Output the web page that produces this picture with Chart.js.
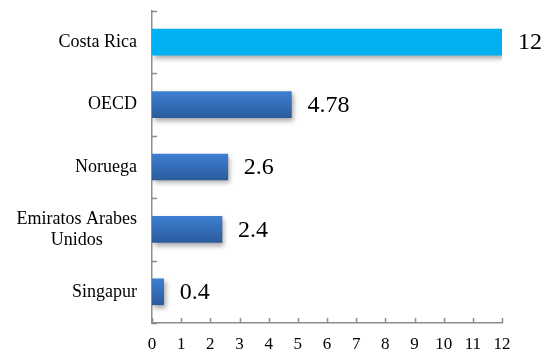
<!DOCTYPE html>
<html>
<head>
<meta charset="utf-8">
<script src="https://cdn.jsdelivr.net/npm/chart.js@4/dist/chart.umd.min.js"></script>
<style>
  html, body { margin: 0; padding: 0; background: #fff; }
  #wrap { width: 543px; height: 352px; position: relative; }
  #probe { position: absolute; left: -999px; font-family: "Liberation Serif", serif; }
</style>
</head>
<body>
<div id="wrap"><canvas id="chart"></canvas></div>
<span id="probe">Costa Rica 0123456789</span>
<script>
const countries = ["Costa Rica", "OECD", "Noruega", ["Emiratos Arabes", "Unidos"], "Singapur"];
const values = [12, 4.78, 2.6, 2.4, 0.4];
const valueLabels = ["12", "4.78", "2.6", "2.4", "0.4"];
const xTicks = [0, 1, 2, 3, 4, 5, 6, 7, 8, 9, 10, 11, 12];

const SERIF = '"Liberation Serif", "Times New Roman", "DejaVu Serif", serif';
const AXIS_COLOR = "#8c8c8c";

// Blue gradient per bar, the first one plain cyan
function barFill(ctx) {
  if (ctx.dataIndex === 0) return "#00b0f0";
  const chart = ctx.chart;
  const y = chart.scales.y;
  if (!y) return "#3670bd";
  const c = y.getPixelForValue(ctx.dataIndex);
  const g = chart.ctx.createLinearGradient(0, c - 13, 0, c + 13);
  g.addColorStop(0, "#3d7fd2");
  g.addColorStop(1, "#2b5b9c");
  return g;
}

const decor = {
  id: "decor",
  beforeDatasetsDraw(chart) {
    const ctx = chart.ctx;
    ctx.save();
    ctx.shadowColor = "rgba(0,0,0,0.35)";
    ctx.shadowBlur = 5;
    ctx.shadowOffsetX = 2;
    ctx.shadowOffsetY = 3;
  },
  afterDatasetsDraw(chart) {
    const ctx = chart.ctx;
    ctx.restore();
    const { x, y } = chart.scales;
    const area = chart.chartArea;

    // inner tick marks on both axes
    ctx.save();
    ctx.strokeStyle = AXIS_COLOR;
    ctx.lineWidth = 1.5;
    ctx.beginPath();
    const step = (y.getPixelForValue(1) - y.getPixelForValue(0));
    for (let i = 0; i <= countries.length; i++) {
      const py = Math.round(y.getPixelForValue(0) - step / 2 + i * step) + 0.5;
      ctx.moveTo(area.left, py);
      ctx.lineTo(area.left + 5, py);
    }
    xTicks.forEach(v => {
      const px = Math.round(x.getPixelForValue(v)) + 0.5;
      ctx.moveTo(px, area.bottom);
      ctx.lineTo(px, area.bottom - 5);
    });
    ctx.stroke();

    // category names, right aligned with centred lines
    ctx.fillStyle = "#000";
    ctx.font = "18px " + SERIF;
    ctx.textBaseline = "middle";
    ctx.textAlign = "center";
    countries.forEach((name, i) => {
      const lines = Array.isArray(name) ? name : [name];
      const w = Math.max(...lines.map(l => ctx.measureText(l).width));
      const cx = area.left - 15 - w / 2;
      const cy = y.getPixelForValue(i);
      const lh = 21;
      lines.forEach((l, k) => {
        ctx.fillText(l, cx, cy + (k - (lines.length - 1) / 2) * lh);
      });
    });

    // value labels after each bar
    ctx.font = "24px " + SERIF;
    ctx.textAlign = "left";
    values.forEach((v, i) => {
      ctx.fillText(valueLabels[i], x.getPixelForValue(v) + 16, y.getPixelForValue(i) + 1);
    });
    ctx.restore();
  }
};

function draw() {
  new Chart(document.getElementById("chart"), {
    type: "bar",
    plugins: [decor],
    data: {
      labels: countries,
      datasets: [{
        data: values,
        backgroundColor: barFill,
        borderWidth: 0,
        barThickness: 26
      }]
    },
    options: {
      indexAxis: "y",
      responsive: true,
      maintainAspectRatio: false,
      animation: false,
      layout: { padding: { top: 11, right: 41, left: 0, bottom: 0 } },
      plugins: { legend: { display: false }, tooltip: { enabled: false } },
      scales: {
        x: {
          min: 0,
          max: 12,
          afterBuildTicks: scale => { scale.ticks = xTicks.map(v => ({ value: v })); },
          afterFit: scale => { scale.height = 29; },
          grid: { display: false, drawTicks: false },
          border: { display: true, color: AXIS_COLOR, width: 1.5 },
          ticks: {
            color: "#000",
            padding: 11,
            font: { family: SERIF, size: 17 }
          }
        },
        y: {
          afterFit: scale => { scale.width = 152; },
          grid: { display: false, drawTicks: false },
          border: { display: true, color: AXIS_COLOR, width: 1.5 },
          ticks: { display: false }
        }
      }
    }
  });
}

if (document.fonts && document.fonts.load) {
  document.fonts.load('18px "Liberation Serif"').then(draw, draw);
} else {
  draw();
}
</script>
</body>
</html>
